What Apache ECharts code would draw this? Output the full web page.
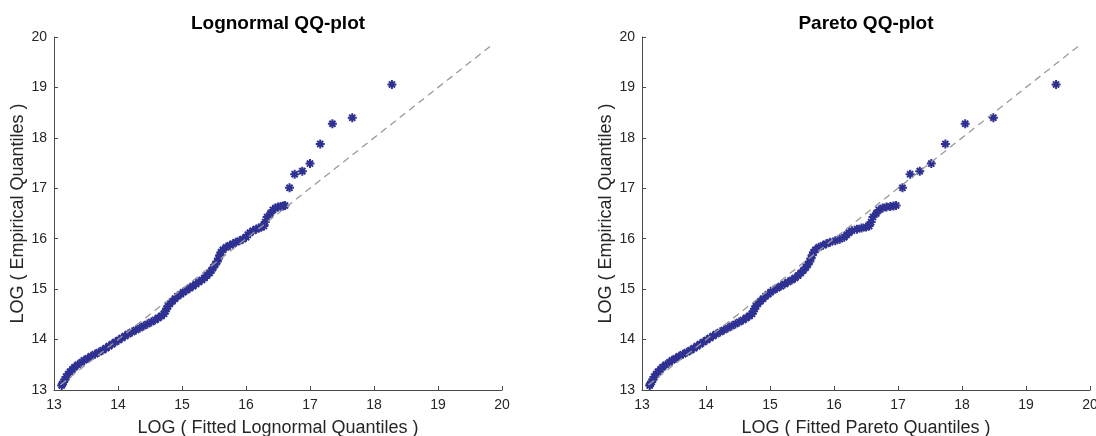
<!DOCTYPE html>
<html>
<head>
<meta charset="utf-8" />
<title>QQ-plots</title>
<script src="https://cdn.jsdelivr.net/npm/echarts@6/dist/echarts.min.js"></script>
<style>
  * { margin: 0; padding: 0; }
  html, body { width: 100%; height: 100%; background: #fff; }
</style>
</head>
<body>
<div id="main" style="width:1096px;height:436px;"></div>
<script type="text/javascript">
// sorted log data (y of both plots)
const empirical = [13.09,13.12,13.16,13.21,13.26,13.31,13.36,13.41,13.45,13.50,
  13.55,13.59,13.63,13.67,13.71,13.75,13.79,13.83,13.87,13.91,
  13.95,13.99,14.03,14.07,14.11,14.15,14.19,14.23,14.27,14.31,
  14.35,14.39,14.43,14.47,14.51,14.56,14.61,14.66,14.71,14.76,
  14.81,14.86,14.90,14.94,14.98,15.02,15.06,15.10,15.14,15.18,
  15.22,15.27,15.32,15.37,15.43,15.49,15.55,15.61,15.67,15.73,
  15.78,15.83,15.87,15.90,15.93,15.96,15.99,16.03,16.08,16.12,
  16.16,16.19,16.21,16.23,16.25,
  16.33,16.43,16.50,16.57,16.61,16.63,16.64,16.65,16.66,
  17.01,17.28,17.34,17.49,17.88,18.28,18.40,19.06];

// fitted lognormal quantiles (x of left plot)
const fittedLognormal = [13.12,13.13,13.15,13.17,13.19,13.22,13.25,13.29,13.32,13.37,
  13.43,13.47,13.53,13.58,13.64,13.70,13.76,13.81,13.86,13.91,
  13.96,14.01,14.06,14.11,14.16,14.22,14.28,14.34,14.40,14.46,
  14.52,14.58,14.63,14.68,14.72,14.74,14.76,14.78,14.81,14.85,
  14.89,14.93,14.98,15.02,15.07,15.12,15.17,15.22,15.26,15.31,
  15.35,15.39,15.43,15.46,15.49,15.52,15.55,15.57,15.59,15.61,
  15.64,15.69,15.75,15.80,15.84,15.90,15.95,16.00,16.03,16.06,
  16.11,16.16,16.20,16.24,16.28,
  16.30,16.33,16.38,16.42,16.46,16.50,16.54,16.58,16.61,
  16.68,16.76,16.88,17.00,17.16,17.35,17.66,18.28];

// fitted pareto quantiles (x of right plot)
const fittedPareto = [13.12,13.13,13.15,13.17,13.19,13.22,13.25,13.29,13.32,13.37,
  13.43,13.47,13.53,13.58,13.64,13.70,13.76,13.81,13.86,13.91,
  13.96,14.01,14.06,14.11,14.16,14.22,14.28,14.34,14.40,14.46,
  14.52,14.58,14.63,14.68,14.72,14.74,14.76,14.78,14.81,14.85,
  14.89,14.93,14.97,15.01,15.05,15.11,15.17,15.23,15.28,15.34,
  15.39,15.44,15.48,15.52,15.56,15.59,15.62,15.64,15.66,15.68,
  15.71,15.76,15.83,15.88,15.94,16.02,16.09,16.16,16.20,16.23,
  16.28,16.36,16.43,16.50,16.55,
  16.58,16.61,16.66,16.70,16.76,16.82,16.88,16.93,16.97,
  17.07,17.19,17.34,17.52,17.74,18.05,18.49,19.47];

// reference line y = x
const refLine = [13.1, 19.86];
const axisTicks = [13, 14, 15, 16, 17, 18, 19, 20];

const titles = ['Lognormal QQ-plot', 'Pareto QQ-plot'];
const xNames = ['LOG ( Fitted Lognormal Quantiles )', 'LOG ( Fitted Pareto Quantiles )'];
const yName = 'LOG ( Empirical Quantiles )';

const font = 'Liberation Sans, Arial, sans-serif';
const ink = '#262626';
const markColor = '#2e3192';
const star = 'path://M5 0 L5 10 M0 5 L10 5 M1.6 1.6 L8.4 8.4 M8.4 1.6 L1.6 8.4';

const gridLefts = [54, 642];

function pairs(xs, ys) {
  return xs.map((x, i) => [x, ys[i]]);
}

function valueAxis(i, name, isX) {
  return {
    type: 'value',
    gridIndex: i,
    min: axisTicks[0],
    max: axisTicks[axisTicks.length - 1],
    interval: 1,
    name: name,
    nameLocation: 'middle',
    nameGap: isX ? 29 : 25,
    nameTextStyle: { fontFamily: font, fontSize: 18, color: ink },
    axisLine: { show: true, onZero: false, lineStyle: { color: '#4a4a4a', width: 1 } },
    axisTick: { show: true, inside: true, length: 4, lineStyle: { color: '#4a4a4a' } },
    axisLabel: { fontFamily: font, fontSize: 14, color: ink, margin: isX ? 8 : 7 },
    splitLine: { show: false }
  };
}

function scatterSeries(i, xs) {
  return {
    type: 'scatter', xAxisIndex: i, yAxisIndex: i,
    data: pairs(xs, empirical),
    symbol: star, symbolSize: 9,
    itemStyle: { color: 'transparent', borderColor: markColor, borderWidth: 2, opacity: 1 }
  };
}

function refSeries(i) {
  return {
    type: 'line', xAxisIndex: i, yAxisIndex: i,
    data: pairs(refLine, refLine), symbol: 'none', z: 5,
    lineStyle: { color: '#9a9a9a', width: 1.3, type: [7, 5] }
  };
}

const myChart = echarts.init(document.getElementById('main'), null, { renderer: 'canvas' });

const option = {
  animation: false,
  backgroundColor: '#fff',
  title: titles.map((t, i) => ({
    text: t,
    left: gridLefts[i] + 224,
    top: 14,
    padding: 0,
    textAlign: 'center',
    textStyle: { fontFamily: font, fontSize: 19, fontWeight: 'bold', color: '#000' }
  })),
  grid: gridLefts.map(l => ({
    left: l, top: 37, width: 448, height: 353,
    containLabel: false, outerBoundsMode: 'none'
  })),
  xAxis: xNames.map((n, i) => valueAxis(i, n, true)),
  yAxis: [0, 1].map(i => valueAxis(i, yName, false)),
  series: [
    scatterSeries(0, fittedLognormal),
    refSeries(0),
    scatterSeries(1, fittedPareto),
    refSeries(1)
  ]
};
myChart.setOption(option);
</script>
</body>
</html>
